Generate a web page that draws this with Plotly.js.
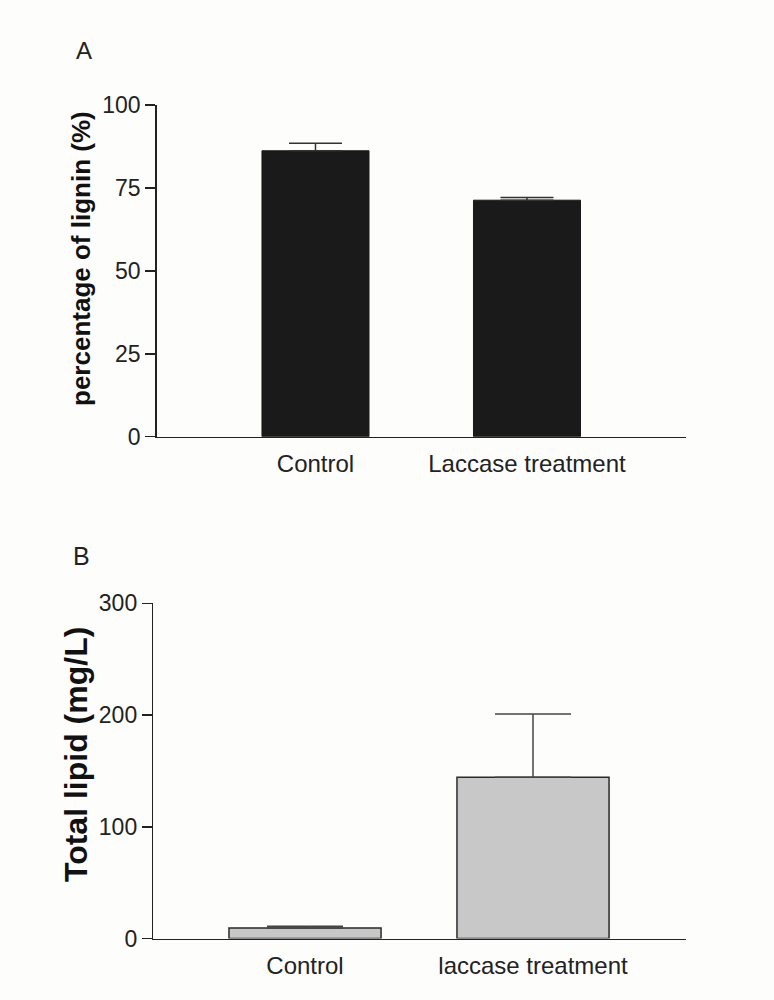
<!DOCTYPE html>
<html>
<head>
<meta charset="utf-8">
<script src="https://cdn.plot.ly/plotly-3.0.1.min.js"></script>
<style>html,body{margin:0;padding:0;background:#fdfdfb;}</style>
</head>
<body>
<div id="chart" style="width:774px;height:1000px;"></div>
<script>
// Panel A data
const catsA = ["Control", "Laccase treatment"];
const ligninPct = [86.2, 71.3];
const ligninErr = [2.3, 0.8];
const ticksA = [0, 25, 50, 75, 100];
// Panel B data
const catsB = ["Control", "laccase treatment"];
const lipid = [9.5, 144.4];
const lipidErr = [1.5, 56.5];
const ticksB = [0, 100, 200, 300];

const W = 774, H = 1000;
const fx = p => p / W;
const fy = p => (H - p) / H;
const FONT = "Liberation Sans, Arial, sans-serif";
const AX = "#222222";

const traceA = {
  type: "bar", x: [0, 1], y: ligninPct, xaxis: "x", yaxis: "y",
  width: 0.506,
  marker: {color: "#1a1a1a", line: {color: "#1a1a1a", width: 1}},
  error_y: {type: "data", array: ligninErr, arrayminus: [0, 0], symmetric: false,
            color: "#333333", thickness: 1.5, width: 26.5},
  hoverinfo: "none", showlegend: false
};
const traceB = {
  type: "bar", x: [0, 1], y: lipid, xaxis: "x2", yaxis: "y2",
  width: 0.667,
  marker: {color: "#c8c8c8", line: {color: "#2a2a2a", width: 1.5}},
  error_y: {type: "data", array: lipidErr, arrayminus: [0, 0], symmetric: false,
            color: "#444444", thickness: 1.5, width: 38},
  hoverinfo: "none", showlegend: false
};

const yCommon = {
  showgrid: false, zeroline: false, showline: true, linecolor: AX, linewidth: 1.5,
  ticks: "outside", ticklen: 10, tickwidth: 1.5, tickcolor: AX,
  tickfont: {family: FONT, size: 23, color: "#222"}, fixedrange: true
};
const xCommon = {
  showgrid: false, zeroline: false, showline: true, linecolor: AX, linewidth: 1.5,
  ticks: "outside", ticklen: 5, tickcolor: "rgba(0,0,0,0)",
  tickfont: {family: FONT, size: 24, color: "#222"}, fixedrange: true
};

const layout = {
  width: W, height: H,
  margin: {l: 0, r: 0, t: 0, b: 0},
  paper_bgcolor: "#fdfdfb", plot_bgcolor: "#fdfdfb",
  bargap: 0,
  xaxis: Object.assign({}, xCommon, {
    domain: [fx(156.7), fx(686)], range: [-0.7508, 1.7518],
    tickmode: "array", tickvals: [0, 1], ticktext: catsA, anchor: "y"
  }),
  yaxis: Object.assign({}, yCommon, {
    domain: [fy(436.7), fy(105)], range: [0, 100],
    tickmode: "array", tickvals: ticksA, ticktext: ticksA.map(String), anchor: "x"
  }),
  xaxis2: Object.assign({}, xCommon, {
    domain: [fx(153.3), fx(686)], range: [-0.6654, 1.671],
    tickmode: "array", tickvals: [0, 1], ticktext: catsB, anchor: "y2"
  }),
  yaxis2: Object.assign({}, yCommon, {
    domain: [fy(938.5), fy(603.3)], range: [0, 300],
    tickmode: "array", tickvals: ticksB, ticktext: ticksB.map(String), anchor: "x2"
  }),
  annotations: [
    {text: "A", xref: "paper", yref: "paper", x: fx(84), y: fy(50), xanchor: "center", yanchor: "middle",
     showarrow: false, font: {family: FONT, size: 24, color: "#222"}},
    {text: "B", xref: "paper", yref: "paper", x: fx(81), y: fy(556), xanchor: "center", yanchor: "middle",
     showarrow: false, font: {family: FONT, size: 25, color: "#222"}},
    {text: "<b>percentage of lignin (%)</b>", xref: "paper", yref: "paper", x: fx(81), y: fy(259),
     xanchor: "center", yanchor: "middle", textangle: -90, showarrow: false,
     font: {family: FONT, size: 26, color: "#111"}},
    {text: "<b>Total lipid (mg/L)</b>", xref: "paper", yref: "paper", x: fx(76), y: fy(755),
     xanchor: "center", yanchor: "middle", textangle: -90, showarrow: false,
     font: {family: FONT, size: 32, color: "#111"}}
  ]
};

Plotly.newPlot("chart", [traceA, traceB], layout, {displayModeBar: false, staticPlot: true});
</script>
</body>
</html>
